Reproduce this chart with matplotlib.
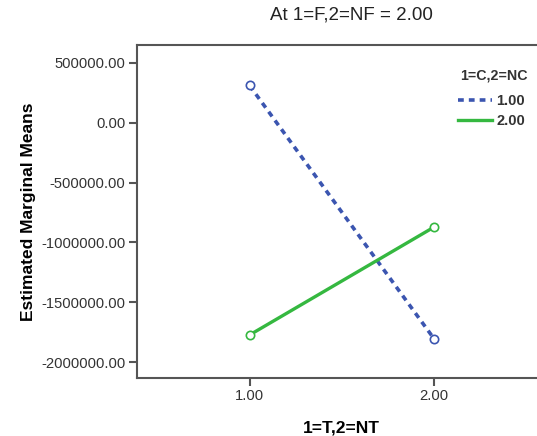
import numpy as np
import matplotlib.pyplot as plt

plt.rcParams['font.family'] = ['Liberation Sans', 'DejaVu Sans']

# data
x_levels = [1.0, 2.0]
x_ticklabels = ['1.00', '2.00']
series_names = ['1.00', '2.00']
means_c1 = [310000, -1805000]
means_c2 = [-1772000, -871000]
y_ticks = [500000, 0, -500000, -1000000, -1500000, -2000000]

blue = '#3b55b0'
green = '#35b840'
dark = '#333333'

fig = plt.figure(figsize=(5.37, 4.36), dpi=100)
ax = fig.add_axes([0.2546, 0.1323, 1.0186 - 0.2546, 0.7645])

ax.plot(x_levels, means_c1, color=blue, ls=(0, (1.6, 1.4)), lw=2.6,
        marker='o', ms=6, mfc='white', mec=blue, mew=1.2, label=series_names[0])
ax.plot(x_levels, means_c2, color=green, ls='-', lw=2.4,
        marker='o', ms=6, mfc='white', mec=green, mew=1.2, label=series_names[1])

ax.set_xlim(0.389, 2.611)
ax.set_ylim(-2133500, 647700)
ax.set_xticks(x_levels)
ax.set_xticklabels(x_ticklabels)
ax.set_yticks(y_ticks)
ax.set_yticklabels(['%.2f' % v for v in y_ticks])

for s in ['left', 'bottom', 'top']:
    ax.spines[s].set_color('#555555')
    ax.spines[s].set_linewidth(1.5)
ax.spines['right'].set_visible(False)
ax.tick_params(axis='both', direction='out', length=6, width=1.5,
               color='#555555', labelsize=10.6, labelcolor=dark, pad=2)

ax.set_ylabel('Estimated Marginal Means', fontsize=12.5, fontweight='bold',
              color='black', labelpad=4)
ax.set_xlabel('1=T,2=NT', fontsize=12.5, fontweight='bold', color='black',
              labelpad=12)
fig.text(351 / 537, 1 - 15 / 436, 'At 1=F,2=NF = 2.00', ha='center', va='center',
         fontsize=13.5, color='#222222')

# legend title drawn on its own so the gap to the entries matches
fig.text(528 / 537, 1 - 75 / 436, '1=C,2=NC', ha='right', va='center',
         fontsize=10.3, fontweight='bold', color=dark)
leg = ax.legend(loc='upper right', bbox_to_anchor=(525 / 537, 1 - 94 / 436),
                bbox_transform=fig.transFigure, frameon=False, borderpad=0,
                borderaxespad=0, fontsize=10.5, handlelength=2.3,
                handletextpad=0.3, labelspacing=0.42)
for h in leg.legend_handles:
    h.set_marker('')
for t in leg.get_texts():
    t.set_fontweight('bold')
    t.set_color(dark)

fig.savefig('out.png', dpi=100)
